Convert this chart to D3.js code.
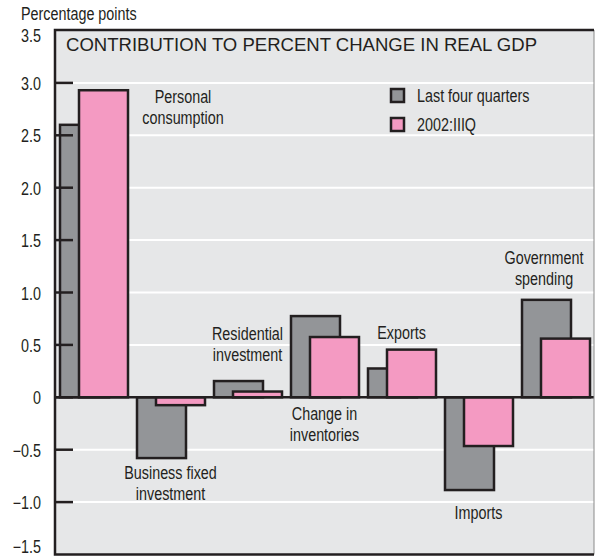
<!DOCTYPE html>
<html>
<head>
<meta charset="utf-8">
<script src="https://cdn.jsdelivr.net/npm/d3@7"></script>
<style>
  body { margin: 0; background: #fff; }
  svg text { fill: #231f20; font-family: "Liberation Sans", Arial, sans-serif; }
  .narrow { font-size: 17.5px; }
</style>
</head>
<body>
<div id="chart"></div>
<script>
// data
const CATEGORIES = ["Personal consumption", "Business fixed investment", "Residential investment",
                    "Change in inventories", "Exports", "Imports", "Government spending"];
const LAST_FOUR = [2.6, -0.58, 0.155, 0.775, 0.275, -0.885, 0.93];
const Q3_2002 = [2.93, -0.075, 0.055, 0.575, 0.455, -0.465, 0.56];
const SERIES = ["Last four quarters", "2002:IIIQ"];
const Y_TICKS = [3.5, 3.0, 2.5, 2.0, 1.5, 1.0, 0.5, 0, -0.5, -1.0, -1.5];
const LABELS = [["Personal", "consumption"], ["Business fixed", "investment"], ["Residential", "investment"],
                ["Change in", "inventories"], ["Exports"], ["Imports"], ["Government", "spending"]];

const WIDTH = 595, HEIGHT = 556;
const LEFT = 55, RIGHT = 594, TOP = 30, BOTTOM = 554.5;
const COLORS = ["#939598", "#f49ac2"];
const INK = "#231f20";
const SX = 0.82; // squeeze for the condensed look

const svg = d3.select("#chart").append("svg")
  .attr("width", WIDTH).attr("height", HEIGHT);

const y = d3.scaleLinear().domain([-1.5, 3.5]).range([BOTTOM, TOP + 0.5]);
const x = d3.scaleBand().domain(CATEGORIES).range([LEFT, RIGHT]);

// narrow text helper
function narrow(g, tx, ty, str, anchor) {
  return g.append("text").attr("class", "narrow")
    .attr("transform", `translate(${tx},${ty}) scale(${SX},1)`)
    .attr("text-anchor", anchor || "start")
    .text(str);
}

// panel
svg.append("rect").attr("x", LEFT).attr("y", TOP).attr("width", RIGHT - LEFT).attr("height", BOTTOM - TOP)
  .attr("fill", "#e6e7e8");

// white gridlines
svg.selectAll("line.grid").data(Y_TICKS.filter(d => d !== 0 && d !== 3.5 && d !== -1.5)).enter()
  .append("line").attr("class", "grid")
    .attr("x1", LEFT).attr("x2", RIGHT)
    .attr("y1", d => y(d)).attr("y2", d => y(d))
    .attr("stroke", "#fff").attr("stroke-width", 2);

// bars, gray behind pink
const bw = 49;
[LAST_FOUR, Q3_2002].forEach((vals, s) => {
  svg.append("g").selectAll("rect").data(vals).enter()
    .append("rect")
      .attr("x", (d, i) => x(CATEGORIES[i]) + 5 + s * 19)
      .attr("y", d => y(Math.max(0, d)))
      .attr("width", bw)
      .attr("height", d => Math.abs(y(d) - y(0)))
      .attr("fill", COLORS[s])
      .attr("stroke", INK).attr("stroke-width", 2.5);
});

// zero line
svg.append("line").attr("x1", LEFT).attr("x2", RIGHT).attr("y1", y(0)).attr("y2", y(0))
  .attr("stroke", INK).attr("stroke-width", 2.5);

// tick marks
svg.selectAll("line.tick").data(Y_TICKS.filter(d => d !== 3.5 && d !== -1.5)).enter()
  .append("line").attr("class", "tick")
    .attr("x1", LEFT).attr("x2", LEFT + 18)
    .attr("y1", d => y(d)).attr("y2", d => y(d))
    .attr("stroke", INK).attr("stroke-width", 2.5);

// frame
svg.append("line").attr("x1", RIGHT).attr("x2", RIGHT).attr("y1", TOP).attr("y2", BOTTOM)
  .attr("stroke", "#8a8a8a").attr("stroke-width", 1);
svg.append("path")
  .attr("d", `M${RIGHT},${TOP}H${LEFT}V${BOTTOM}H${RIGHT}`)
  .attr("fill", "none").attr("stroke", INK).attr("stroke-width", 2.5);

// tick labels (end ones nudged inside)
const fmt = d => d === 0 ? "0" : d3.format(".1f")(d).replace("-", "\u2212");
Y_TICKS.forEach(d => {
  const ty = Math.min(Math.max(y(d) + 7, 42), 553);
  narrow(svg, 41, ty, fmt(d), "end");
});

narrow(svg, 21, 20, "Percentage points");

// title
svg.append("text").attr("x", 66).attr("y", 51)
  .style("font-size", "17.5px")
  .attr("textLength", 471).attr("lengthAdjust", "spacingAndGlyphs")
  .text("CONTRIBUTION TO PERCENT CHANGE IN REAL GDP");

// legend
const legend = svg.append("g");
SERIES.forEach((s, i) => {
  legend.append("rect").attr("x", 391).attr("y", 89 + i * 29).attr("width", 13).attr("height", 13)
    .attr("fill", COLORS[i]).attr("stroke", INK).attr("stroke-width", 2.5);
  narrow(legend, 417, 102 + i * 29, s);
});

// category labels: center x offset from band center, first baseline
const LABEL_POS = [[89.5, 103], [0, 479], [0, 340], [0, 420], [0, 339], [0, 519], [-11.5, 264]];
LABELS.forEach((lines, i) => {
  const cx = x(CATEGORIES[i]) + x.bandwidth() / 2 + LABEL_POS[i][0];
  lines.forEach((ln, j) => narrow(svg, cx, LABEL_POS[i][1] + j * 20.5, ln, "middle"));
});
</script>
</body>
</html>
